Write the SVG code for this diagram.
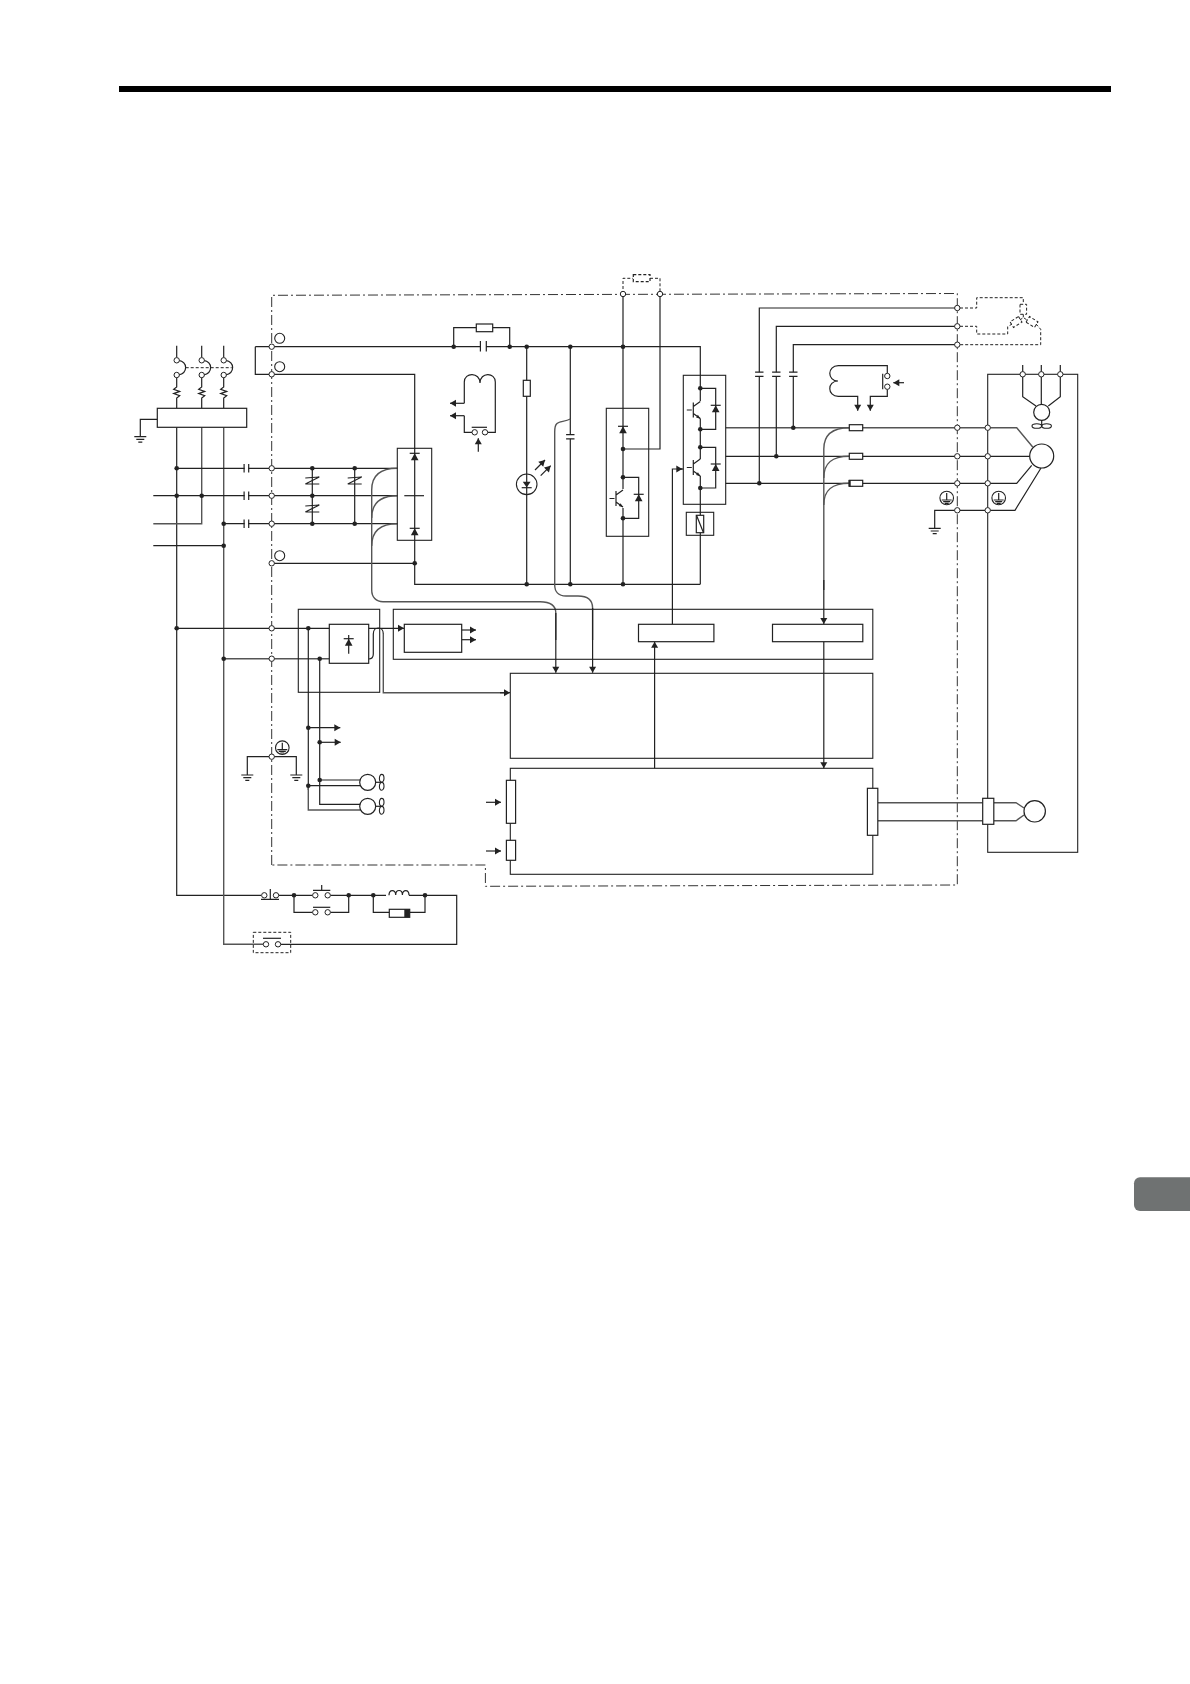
<svg xmlns="http://www.w3.org/2000/svg" width="1190" height="1684" viewBox="0 0 1190 1684">
<style>
.l{fill:none;stroke:#222;stroke-width:1.2}
.g{fill:none;stroke:#555;stroke-width:1.4}
.b{fill:#fff;stroke:#222;stroke-width:1.2}
.o{fill:none;stroke:#222;stroke-width:1.1}
.d{fill:none;stroke:#222;stroke-width:1;stroke-dasharray:3 2}
.dd{fill:none;stroke:#333;stroke-width:1;stroke-dasharray:10 3 2 3}
.t{fill:#fff;stroke:#222;stroke-width:1}
.f{fill:#222;stroke:none}
</style>
<defs>
<marker id="a" markerUnits="userSpaceOnUse" markerWidth="7" markerHeight="8" refX="6" refY="4" viewBox="0 0 6 8" orient="auto"><polygon points="0,0.5 6,4 0,7.5" fill="#222"/></marker>
<circle id="dot" r="2.3" class="f"/>
<circle id="term" r="2.7" class="t"/>
<circle id="big" r="5" class="o"/>
<g id="diode"><path class="l" d="M-5 0H5"/><polygon class="f" points="0,0 -3.8,7 3.8,7"/></g>
<g id="igbt"><path class="l" d="M-13.5 0H-8.5M-7 -7.5V7.5M-7 -3.5L0 -8.5M-7 3.5L0 8.5"/><polygon class="f" points="0,8.8 -4.2,7.6 -2.4,4.8"/></g>
<g id="var"><path class="l" d="M-7 -3L7 -4M7 -4L-7 3M-7 3L7 3"/></g>
<g id="capv"><path class="l" d="M-2.3 -4.2V4.2M2.3 -4.2V4.2"/></g>
<g id="caph"><path class="l" d="M-4.2 -2.1H4.2M-4.2 2.1H4.2"/></g>
<g id="gnd"><path class="l" d="M-6 0H6M-4 2.7H4M-2 5.4H2"/></g>
<g id="earth"><circle r="6.8" class="o"/><path class="l" d="M0 -5V2M-5 2H5M-3.5 3.7H3.5M-2 5.3H2"/></g>
<g id="motorfan"><circle r="8" class="b"/><path class="l" d="M8 0H14"/><ellipse cx="14" cy="-4" rx="2.3" ry="3.9" class="o"/><ellipse cx="14" cy="4" rx="2.3" ry="3.9" class="o"/></g>
</defs>
<rect width="1190" height="1684" fill="#fff"/>
<rect id="top-bar" x="119" y="86" width="992" height="6" fill="#000"/>
<path id="side-tab" d="M1190 1177.3H1140a6 6 0 0 0 -6 6V1205a6 6 0 0 0 6 6H1190Z" fill="#6f7272"/>

<g id="boundary"><path class="dd" d="M271.7 865V295.3L957.3 293.5V885L485.4 886.3V865H271.7Z"/></g>

<g id="connectors">
<path class="l" d="M176.7 345.7V357.5M201.7 345.7V357.5M223.7 345.7V357.5"/>
<path class="l" d="M176.7 375V387l-3 2.2 6 2.2 -6 2.2 6 2.2 -3 2.2V408M201.7 375V387l-3 2.2 6 2.2 -6 2.2 6 2.2 -3 2.2V408M223.7 375V387l-3 2.2 6 2.2 -6 2.2 6 2.2 -3 2.2V408"/>
<path class="l" d="M178.5 360.3C188 362 188 373 178.5 375M203.5 360.3C213 362 213 373 203.5 375M225.5 360.3C235 362 235 373 225.5 375"/>
<path class="d" d="M185.7 367.7H231.7"/>
<path class="l" d="M157.3 419.3H140.3V436.7"/>
<path class="l" d="M176.7 427.3V895.3H261"/>
<path class="g" d="M201.7 427.3V523.7H153.3"/>
<path class="g" d="M223.7 427.3V944.3H263"/>
<path class="l" d="M176.7 468.3H397.3M153.3 495.7H397.3M223.7 523.7H397.3M153.3 545.7H223.7"/>
<path class="l" d="M255.3 346.7H271.7M255.3 346.7V374.3H271.7"/>
<path class="l" d="M271.7 346.7H700.3V401M271.7 374.3H414.7V584.3H700.3"/>
<path class="l" d="M271.7 563.3H414.7"/>
<path class="l" d="M404.3 495.7H424"/>
<path class="l" d="M312.3 468.3V523.7M354.7 468.3V523.7"/>
<path class="g" d="M397.3 468.3C380 468.3 371.7 476 371.7 490V590C371.7 597 376 601.7 383 601.7H540C551 601.7 555.8 606 555.8 613V640"/>
<path class="g" d="M397.3 495.7C380 495.7 371.7 503 371.7 518"/>
<path class="g" d="M397.3 523.7C380 523.7 371.7 531 371.7 546"/>
<path class="l" d="M555.8 613V672.7" marker-end="url(#a)"/>
<path class="l" d="M453.7 346.7V327.7H476.3M492.7 327.7H509.7V346.7"/>
<path class="l" d="M526.7 346.7V584.3M570.3 346.7V584.3"/>
<path class="g" d="M570.3 419C565 422 559 421 556.5 424C554.7 426 554.7 429 554.7 432V585C554.7 591 558 596 566 596H578C588 596 592.6 600 592.6 608V640"/>
<path class="l" d="M592.6 608V672.7" marker-end="url(#a)"/>
<path class="l" d="M623 294V489M623 508V584.3"/>
<path class="l" d="M623 449H660V294"/>
<path class="d" d="M623 294V278.3H633.3M650 278.3H660V294"/>
<path class="l" d="M623 477.3H638.7V518.3H623"/>
<path class="l" d="M700.3 418.5V459M700.3 476V515.3M700.3 532.7V584.3"/>
<path class="l" d="M700.3 388.3H715.7V429.3H700.3M700.3 447.3H715.7V488H700.3"/>
<path class="l" d="M672.4 624.3V469H682.3" marker-end="url(#a)"/>
<path class="l" d="M680 469H683.3"/>
<path class="l" d="M464.3 403.3H450" marker-end="url(#a)"/>
<path class="l" d="M464.3 415.7H450" marker-end="url(#a)"/>
<path class="l" d="M464.3 403.3V382C464.3 372 480 372 480 383C480 372 495.3 372 495.3 382V432.3H487.7M472 432.3H464.3V415.7"/>
<path class="l" d="M478.3 451.7V438.3" marker-end="url(#a)"/>
<path class="l" d="M471.7 427.3H487"/>
<path class="l" d="M535 470L545 460" marker-end="url(#a)"/>
<path class="l" d="M540.7 475.7L550.7 465.7" marker-end="url(#a)"/>
<path class="g" d="M725.7 427.7H849.3"/>
<path class="l" d="M725.7 456.3H849.3M725.7 483.3H849.3"/>
<path class="l" d="M759.3 483.3V308H957.3M776.3 456.3V326.3H957.3M793.3 427.7V344.7H957.3"/>
<path class="g" d="M862.7 427.7H1016.7L1032.7 447"/>
<path class="l" d="M862.7 456.3H1030M862.7 483.3H1016.7L1031.7 465.3"/>
<path class="l" d="M957.3 510.3H1015L1041 468M957.3 510.3H934.7V528.3"/>
<path class="g" d="M849.3 427.7C832 427.7 823.8 435 823.8 449V590"/>
<path class="g" d="M849.3 456.3C832 456.3 823.8 463 823.8 478"/>
<path class="g" d="M849.3 483.3C832 483.3 823.8 490 823.8 505"/>
<path class="l" d="M823.8 580V624" marker-end="url(#a)"/>
<path class="l" d="M823.8 641.7V768.3" marker-end="url(#a)"/>
<path class="l" d="M654.6 768.3V641.7" marker-end="url(#a)"/>
<path class="d" d="M960 308H976.7V297.7H1023.3V304.3M1023.3 314.3V317.5M960 326.3H976.7V334H1007.7V326.7L1012 324M1020 320L1023.3 317.5L1027 320M1036 324L1040.7 329.3V344.7H960"/>
<path class="l" d="M176.7 628.3H329.3"/>
<path class="g" d="M223.7 658.7H329.3"/>
<path class="l" d="M368.7 628.3H404" marker-end="url(#a)"/>
<path class="l" d="M368.7 659C372 659 373.3 657 373.3 654V634C373.3 626 383.3 626 383.3 634"/>
<path class="g" d="M383.3 634V692.7H505"/>
<path class="l" d="M500 692.7H510" marker-end="url(#a)"/>
<path class="l" d="M461.7 630H476" marker-end="url(#a)"/>
<path class="l" d="M461.7 639.7H476" marker-end="url(#a)"/>
<path class="l" d="M308.3 628.3V790"/>
<path class="g" d="M308.3 785.7V810H360"/>
<path class="l" d="M319.7 658.7V804.3H360M319.7 780H360M308.3 785.7H360"/>
<path class="l" d="M308.3 727.7H340.3" marker-end="url(#a)"/>
<path class="l" d="M319.7 742.3H340.7" marker-end="url(#a)"/>
<path class="l" d="M247.3 775V756.7H296.3V775"/>
<path class="l" d="M279 895.3H312.5M330.5 895.3H386M409 895.3H456.7V944.3H281"/>
<path class="l" d="M294 895.3V912.3H312.5M330.5 912.3H348.7V895.3"/>
<path class="l" d="M373.3 895.3V912.3H389.3M409.7 912.3H425V895.3"/>
<path class="l" d="M389 895.3C389 889 395.7 889 395.7 895C395.7 889 402.4 889 402.4 895C402.4 889 409 889 409 895.3"/>
<path class="l" d="M486 802.3H501" marker-end="url(#a)"/>
<path class="l" d="M486 851H501" marker-end="url(#a)"/>
<path class="g" d="M877.8 802.7H982.7M877.8 820.7H982.7M993.8 802.7H1016L1024 808M993.8 820.7H1016L1024 815"/>
<path class="l" d="M1022.7 365V396.7L1036 406M1060.3 365V396.7L1048.3 406M1041.3 365V404"/>
</g>

<g id="mccb">
<use href="#term" x="176.7" y="360.3"/><use href="#term" x="176.7" y="375"/>
<use href="#term" x="201.7" y="360.3"/><use href="#term" x="201.7" y="375"/>
<use href="#term" x="223.7" y="360.3"/><use href="#term" x="223.7" y="375"/>
</g>
<g id="noise-filter"><rect class="b" x="157.3" y="408.3" width="89.4" height="19"/><use href="#gnd" x="140.3" y="436.7"/></g>
<g id="input-junctions">
<use href="#dot" x="176.7" y="468.3"/><use href="#dot" x="176.7" y="495.7"/><use href="#dot" x="201.7" y="495.7"/><use href="#dot" x="223.7" y="523.7"/><use href="#dot" x="223.7" y="545.7"/>
<use href="#dot" x="176.7" y="628.3"/><use href="#dot" x="223.7" y="658.7"/>
</g>
<g id="input-caps">
<rect x="244.6" y="463" width="3.6" height="10" fill="#fff"/><rect x="244.6" y="490" width="3.6" height="10" fill="#fff"/><rect x="244.6" y="518" width="3.6" height="10" fill="#fff"/>
<use href="#capv" x="246.4" y="468.3"/><use href="#capv" x="246.4" y="495.7"/><use href="#capv" x="246.4" y="523.7"/>
</g>
<g id="varistors">
<use href="#var" x="312.3" y="481"/><use href="#var" x="312.3" y="509"/><use href="#var" x="354.7" y="481"/>
<use href="#dot" x="312.3" y="468.3"/><use href="#dot" x="312.3" y="495.7"/><use href="#dot" x="312.3" y="523.7"/><use href="#dot" x="354.7" y="468.3"/><use href="#dot" x="354.7" y="523.7"/>
</g>
<g id="boundary-terminals">
<use href="#term" x="271.7" y="346.7"/><use href="#term" x="271.7" y="374.3"/><use href="#term" x="271.7" y="468.3"/><use href="#term" x="271.7" y="495.7"/><use href="#term" x="271.7" y="523.7"/><use href="#term" x="271.7" y="563.3"/><use href="#term" x="271.7" y="628.3"/><use href="#term" x="271.7" y="658.7"/><use href="#term" x="271.7" y="756.7"/>
<use href="#term" x="623" y="294"/><use href="#term" x="660" y="294"/>
<use href="#term" x="957.3" y="308"/><use href="#term" x="957.3" y="326.3"/><use href="#term" x="957.3" y="344.7"/>
<use href="#term" x="957.3" y="427.7"/><use href="#term" x="957.3" y="456.3"/><use href="#term" x="957.3" y="483.3"/><use href="#term" x="957.3" y="510.3"/>
<use href="#big" x="279.7" y="338.3"/><use href="#big" x="279.7" y="366.7"/><use href="#big" x="279.7" y="555.7"/>
</g>
<g id="rectifier">
<rect class="o" x="397.3" y="448.3" width="34.4" height="92"/>
<use href="#diode" x="414.7" y="453.3"/><use href="#diode" x="414.7" y="528.3"/>
<use href="#dot" x="414.7" y="563.3"/>
</g>
<g id="charge-circuit">
<rect class="b" x="476.3" y="324" width="16.4" height="7.7"/>
<rect x="480.6" y="341" width="5.4" height="10" fill="#fff"/>
<path class="l" d="M480.4 341V351.4M486.3 341V351.4"/>
<use href="#dot" x="453.7" y="346.7"/><use href="#dot" x="509.7" y="346.7"/>
</g>
<g id="relay-switch">
<use href="#term" x="474.7" y="432.3"/><use href="#term" x="485" y="432.3"/>
</g>
<g id="bus-junctions">
<use href="#dot" x="526.7" y="346.7"/><use href="#dot" x="570.3" y="346.7"/><use href="#dot" x="623" y="346.7"/>
<use href="#dot" x="526.7" y="584.3"/><use href="#dot" x="570.3" y="584.3"/><use href="#dot" x="623" y="584.3"/>
</g>
<g id="charge-led">
<rect class="b" x="523.3" y="380.3" width="7" height="16"/>
<circle class="o" cx="526.7" cy="484.3" r="10.3"/>
<polygon class="f" points="522.8,481.7 530.6,481.7 526.7,487.5"/>
<path class="l" d="M521.7 487.7H531.7"/>
</g>
<g id="bus-capacitor"><rect x="566" y="434.6" width="8.6" height="4.2" fill="#fff"/><use href="#caph" x="570.3" y="436.7"/></g>
<g id="brake-unit">
<rect class="o" x="606.3" y="408.3" width="42.4" height="128"/>
<use href="#diode" x="623" y="426.3"/>
<use href="#dot" x="623" y="449"/><use href="#dot" x="623" y="477.3"/><use href="#dot" x="623" y="518.3"/>
<use href="#igbt" x="623" y="498.5"/>
<use href="#diode" x="638.7" y="494.3"/>
<rect class="b" x="633.3" y="274.7" width="16.7" height="7" stroke-dasharray="3 2"/>
</g>
<g id="inverter">
<rect class="o" x="683.3" y="375.3" width="42.4" height="129"/>
<use href="#dot" x="700.3" y="388.3"/><use href="#dot" x="700.3" y="429.3"/><use href="#dot" x="700.3" y="447.3"/><use href="#dot" x="700.3" y="488"/>
<use href="#igbt" x="700.3" y="410"/><use href="#igbt" x="700.3" y="467.5"/>
<use href="#diode" x="715.7" y="405.3"/><use href="#diode" x="715.7" y="464"/>
</g>
<g id="shunt">
<rect class="o" x="686.3" y="512.3" width="27.4" height="23"/>
<rect class="b" x="696.3" y="515.3" width="7.4" height="17.4"/>
<path class="l" d="M696.8 516L703.2 532"/>
</g>
<g id="output-caps">
<rect x="755" y="372.2" width="8.6" height="4.2" fill="#fff"/><rect x="772" y="372.2" width="8.6" height="4.2" fill="#fff"/><rect x="789" y="372.2" width="8.6" height="4.2" fill="#fff"/>
<use href="#caph" x="759.3" y="374.3"/><use href="#caph" x="776.3" y="374.3"/><use href="#caph" x="793.3" y="374.3"/>
<use href="#dot" x="759.3" y="483.3"/><use href="#dot" x="776.3" y="456.3"/><use href="#dot" x="793.3" y="427.7"/>
</g>
<g id="contactor">
<path class="l" d="M887.3 373.3V365.7H838.3C827 365.7 827 381 838 381C827 381 827 396.3 838.3 396.3H857.7V410.7" marker-end="url(#a)"/>
<path class="l" d="M887.3 389.3V396.3H870.3V410.7" marker-end="url(#a)"/>
<path class="l" d="M882.7 373.7V389.3"/>
<path class="l" d="M904 382.7H893.3" marker-end="url(#a)"/>
<use href="#term" x="887.3" y="376"/><use href="#term" x="887.3" y="386.7"/>
</g>
<g id="fuses">
<rect class="b" x="849.3" y="424.7" width="13.4" height="6"/><rect class="b" x="849.3" y="453.3" width="13.4" height="6"/><rect class="b" x="849.3" y="480.3" width="13.4" height="6"/>
<rect class="f" x="848.5" y="480" width="2.2" height="6.6"/>
</g>
<g id="brake-star">
<rect x="1020" y="304.3" width="6.6" height="10" class="d"/>
<rect x="-3.3" y="-5" width="6.6" height="10" class="d" transform="translate(1016 322) rotate(58)"/>
<rect x="-3.3" y="-5" width="6.6" height="10" class="d" transform="translate(1032 322) rotate(-58)"/>
</g>
<g id="motor-frame">
<rect class="o" x="987.7" y="374.3" width="90" height="478"/>
<circle class="b" cx="1041.7" cy="456" r="12"/>
<use href="#term" x="987.7" y="427.7"/><use href="#term" x="987.7" y="456.3"/><use href="#term" x="987.7" y="483.3"/><use href="#term" x="987.7" y="510.3"/>
<use href="#term" x="1022.7" y="374.3"/><use href="#term" x="1041.3" y="374.3"/><use href="#term" x="1060.3" y="374.3"/>
<circle class="b" cx="1041.7" cy="412.3" r="8"/>
<path class="l" d="M1041.7 420.3V426"/>
<ellipse class="o" cx="1036.8" cy="426" rx="4.8" ry="2.3"/><ellipse class="o" cx="1046.6" cy="426" rx="4.8" ry="2.3"/>
<use href="#earth" x="998.7" y="498"/><use href="#earth" x="946.7" y="498"/>
<use href="#gnd" x="934.7" y="528.3"/>
</g>
<g id="control-power">
<rect class="o" x="298.3" y="609.3" width="81.4" height="83"/>
<rect class="b" x="329.3" y="624.3" width="39.4" height="39"/>
<path class="l" d="M348.7 635V653.7"/>
<use href="#diode" x="348.7" y="638.7"/>
<use href="#dot" x="308.3" y="628.3"/><use href="#dot" x="319.7" y="658.7"/>
<use href="#dot" x="308.3" y="727.7"/><use href="#dot" x="319.7" y="742.3"/><use href="#dot" x="319.7" y="780"/><use href="#dot" x="308.3" y="785.7"/>
</g>
<g id="power-panel">
<rect class="o" x="393.3" y="609.3" width="479.5" height="50"/>
<rect class="b" x="404.3" y="624.3" width="57.4" height="28"/>
<rect class="b" x="638.5" y="624.3" width="75.4" height="17.4"/>
<rect class="b" x="772.5" y="624.3" width="90.3" height="17.4"/>
</g>
<g id="control-a"><rect class="o" x="510.3" y="673.3" width="362.5" height="85"/></g>
<g id="control-b">
<rect class="o" x="510.3" y="768.3" width="362.5" height="106"/>
<rect class="b" x="506.4" y="780.3" width="9.2" height="43"/>
<rect class="b" x="506.4" y="840.3" width="9.2" height="20"/>
<rect class="b" x="867.4" y="788.3" width="10.4" height="47"/>
</g>
<g id="encoder">
<rect class="b" x="982.7" y="798.3" width="11.1" height="26"/>
<circle class="b" cx="1034.7" cy="811.3" r="10.7"/>
</g>
<g id="fans">
<use href="#motorfan" x="367.7" y="782.3"/><use href="#motorfan" x="367.7" y="806.3"/>
<use href="#earth" x="282.3" y="747.7"/>
<use href="#gnd" x="247.3" y="775"/><use href="#gnd" x="296.3" y="775"/>
</g>
<g id="sequence">
<use href="#term" x="264.3" y="895.3"/><use href="#term" x="276" y="895.3"/>
<path class="l" d="M270.3 889V900M261 899.3H279"/>
<use href="#term" x="315.3" y="895.3"/><use href="#term" x="327.7" y="895.3"/>
<path class="l" d="M313 890.3H330.3M321.7 885V890.3"/>
<use href="#term" x="315.3" y="912.3"/><use href="#term" x="327.7" y="912.3"/>
<path class="l" d="M313 907.3H330.3"/>
<use href="#dot" x="294" y="895.3"/><use href="#dot" x="348.7" y="895.3"/><use href="#dot" x="373.3" y="895.3"/><use href="#dot" x="425" y="895.3"/>
<rect class="b" x="389.3" y="909.3" width="20.4" height="8"/>
<rect class="f" x="404.3" y="909.3" width="5.4" height="8"/>
<rect class="d" x="253.3" y="932.3" width="37.4" height="20.4"/>
<use href="#term" x="266" y="944.3"/><use href="#term" x="278" y="944.3"/>
<path class="l" d="M263 938.3H281"/>
</g>
</svg>
